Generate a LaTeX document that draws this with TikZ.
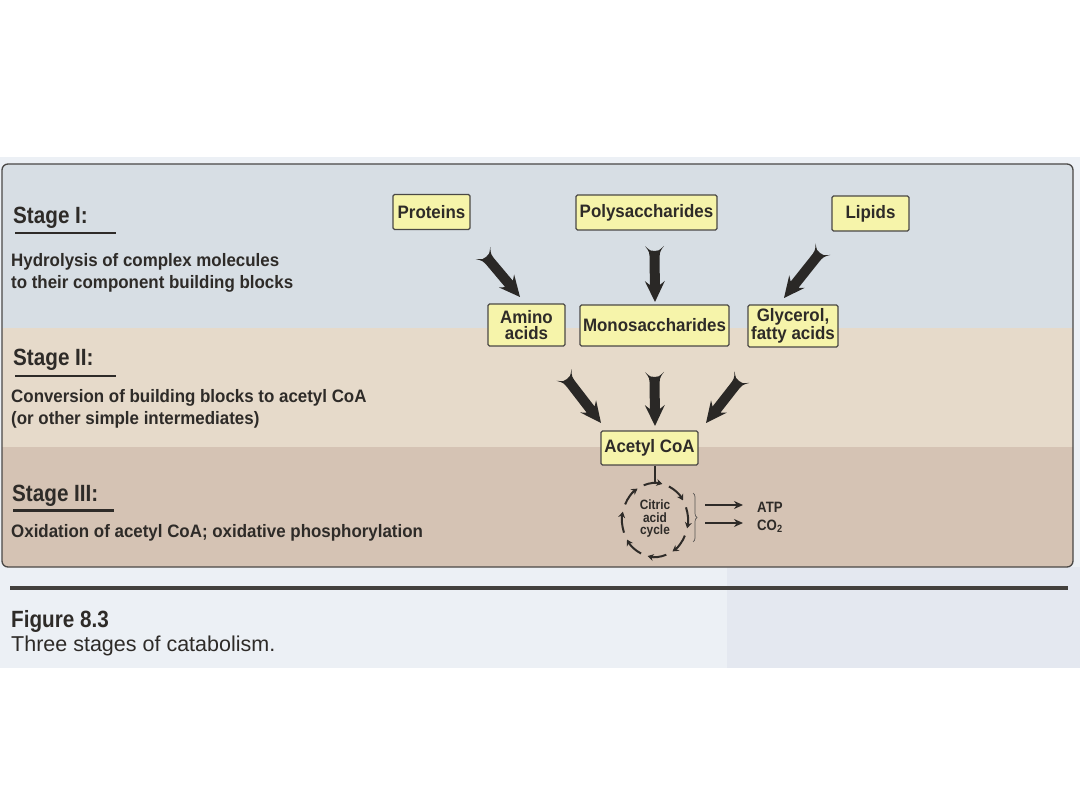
\documentclass[tikz,border=0pt]{standalone}
\usepackage{fontspec}
\setmainfont{Liberation Sans}
\newfontfamily\condfont{Liberation Sans}[FakeStretch=0.88]
\newfontfamily\bodyfont{Liberation Sans}[FakeStretch=0.94]
\usetikzlibrary{calc,arrows.meta,decorations.pathreplacing}
\definecolor{pagebg}{HTML}{ECF0F5}
\definecolor{pageright}{HTML}{E4E8F0}
\definecolor{stageone}{HTML}{D7DEE4}
\definecolor{stagetwo}{HTML}{E6DACA}
\definecolor{stagethree}{HTML}{D5C3B4}
\definecolor{boxfill}{HTML}{F6F4AA}
\definecolor{ink}{HTML}{2E2B28}
\definecolor{arrowink}{HTML}{2A2826}
\definecolor{frame}{HTML}{4A4846}
\newcommand{\fatarrow}[2]{%
\fill[arrowink] (#2)
 -- ($(#2)!21pt!(#1)!10pt!90:(#1)$)
 -- ($(#2)!17pt!(#1)!5pt!90:(#1)$)
 -- ($(#1)!15pt!(#2)!5pt!-90:(#2)$)
 .. controls ($(#1)!6pt!(#2)!5pt!-90:(#2)$) .. ($(#1)!9.5pt!-90:(#2)$)
 .. controls ($(#1)!5pt!(#2)!4pt!-90:(#2)$) .. ($(#1)!5pt!(#2)$)
 .. controls ($(#1)!5pt!(#2)!4pt!90:(#2)$) .. ($(#1)!9.5pt!90:(#2)$)
 .. controls ($(#1)!6pt!(#2)!5pt!90:(#2)$) .. ($(#1)!15pt!(#2)!5pt!90:(#2)$)
 -- ($(#2)!17pt!(#1)!5pt!-90:(#1)$)
 -- ($(#2)!21pt!(#1)!10pt!-90:(#1)$)
 -- cycle;}
\tikzset{
  stagelbl/.style={anchor=base west, inner sep=0pt, text=ink,
    font=\condfont\bfseries\fontsize{23.5}{28}\selectfont},
  desc/.style={anchor=base west, inner sep=0pt, text=ink,
    font=\bodyfont\bfseries\fontsize{18}{21}\selectfont},
  uline/.style={draw=ink, line width=2.2pt},
  mbox/.style={draw=frame, line width=1.1pt, fill=boxfill, rounded corners=1.5pt,
    inner sep=0pt, align=center, text=ink,
    font=\bodyfont\bfseries\fontsize{18}{16.5}\selectfont},
  cycarc/.style={draw=ink, line width=2pt, -{Stealth[length=6pt,width=7pt]}},
  tarrow/.style={draw=ink, line width=2pt, -{Stealth[length=9pt,width=8pt]}},
  small/.style={inner sep=0pt, text=ink, font=\condfont\bfseries\fontsize{13.5}{12.5}\selectfont}
}
\begin{document}
\begin{tikzpicture}[x=1pt,y=1pt]
\useasboundingbox (0,0) rectangle (1080,-810);
\fill[white] (0,0) rectangle (1080,-810);
% page
\fill[pagebg] (0,-157) rectangle (1080,-668);
\fill[pageright] (727,-567) rectangle (1080,-668);
% stage bands
\begin{scope}
\clip[rounded corners=6pt] (2,-164) rectangle (1073,-567);
\fill[stageone] (0,-160) rectangle (1080,-328);
\fill[stagetwo] (0,-328) rectangle (1080,-447);
\fill[stagethree] (0,-447) rectangle (1080,-570);
\end{scope}
\draw[frame, line width=1.3pt, rounded corners=6pt] (2,-164) rectangle (1073,-567);

% left texts
\node[stagelbl] (s1) at (13,-224) {Stage I:};
\draw[uline] (15,-233) -- (116,-233);
\node[desc] (d1a) at (11,-267) {Hydrolysis of complex molecules};
\node[desc] (d1b) at (11,-288.5) {to their component building blocks};

\node[stagelbl] (s2) at (13,-366) {Stage II:};
\draw[uline] (15,-376) -- (116,-376);
\node[desc] (d2a) at (11,-403) {Conversion of building blocks to acetyl CoA};
\node[desc] (d2b) at (11,-424.5) {(or other simple intermediates)};

\node[stagelbl] (s3) at (12,-501) {Stage III:};
\draw[uline] (13,-510.5) -- (114,-510.5);
\node[desc] (d3a) at (11,-537) {Oxidation of acetyl CoA; oxidative phosphorylation};

% boxes
\node[mbox, minimum width=77pt, minimum height=35pt] (prot) at (431.5,-212) {Proteins};
\node[mbox, minimum width=141pt, minimum height=35pt] (poly) at (646.5,-212.5) {Polysaccharides};
\node[mbox, minimum width=77pt, minimum height=35pt] (lip) at (870.5,-213.5) {Lipids};
\node[mbox, minimum width=77pt, minimum height=42pt] (amino) at (526.5,-325) {Amino\\acids};
\node[mbox, minimum width=149pt, minimum height=41pt] (mono) at (654.5,-325.5) {Monosaccharides};
\node[mbox, minimum width=90pt, minimum height=42pt] (glyc) at (793,-326) {Glycerol,\\fatty acids};
\node[mbox, minimum width=97pt, minimum height=34pt] (acoa) at (649.5,-448) {Acetyl CoA};

% big arrows
\coordinate (t1) at (483,-253); \coordinate (h1) at (520,-297);
\coordinate (t2) at (654.5,-246); \coordinate (h2) at (655,-302);
\coordinate (t3) at (823,-249); \coordinate (h3) at (784,-298);
\coordinate (t4) at (564,-375); \coordinate (h4) at (601,-423);
\coordinate (t5) at (654.5,-372); \coordinate (h5) at (655,-426);
\coordinate (t6) at (742,-377); \coordinate (h6) at (706,-423);
\fatarrow{t1}{h1}
\fatarrow{t2}{h2}
\fatarrow{t3}{h3}
\fatarrow{t4}{h4}
\fatarrow{t5}{h5}
\fatarrow{t6}{h6}

% citric acid cycle
\coordinate (cyc) at (655,-520);
\coordinate (ctop) at (655,-483);
\draw[draw=ink, line width=1.8pt] (acoa.south -| ctop) -- (ctop);
\foreach \s in {110,65,20,-25,-70,-115,-160,-205}{
  \draw[cycarc] ($(cyc)+(\s:33 and 37)$) arc[start angle=\s, delta angle=-33, x radius=33, y radius=37];
}
\node[small, align=center] (cyctext) at (655,-519) {Citric\\acid\\cycle};
\coordinate (br1) at (693,-493);
\coordinate (br2) at (693,-542);
\draw[draw=ink!80, line width=0.7pt, decorate, decoration={brace, amplitude=4pt}] (br1) -- (br2);
\node[small, anchor=base west, font=\condfont\bfseries\fontsize{15}{17}\selectfont] (atp) at (757,-512) {ATP};
\node[small, anchor=base west, font=\condfont\bfseries\fontsize{15}{17}\selectfont] (co2) at (757,-530) {CO\textsubscript{2}};
\coordinate (atpa) at (705,-505); \coordinate (atpb) at (743,-505);
\coordinate (co2a) at (705,-523); \coordinate (co2b) at (743,-523);
\draw[tarrow] (atpa) -- (atpb);
\draw[tarrow] (co2a) -- (co2b);

% caption
\draw[draw=ink!90, line width=3.5pt] (10,-588) -- (1068,-588);
\node[anchor=base west, inner sep=0pt, text=ink, font=\condfont\bfseries\fontsize{23.5}{28}\selectfont] (fig) at (11,-627) {Figure 8.3};
\node[anchor=base west, inner sep=0pt, text=ink, font=\fontsize{21.5}{26}\selectfont] (cap) at (11,-651) {Three stages of catabolism.};
\end{tikzpicture}
\end{document}
